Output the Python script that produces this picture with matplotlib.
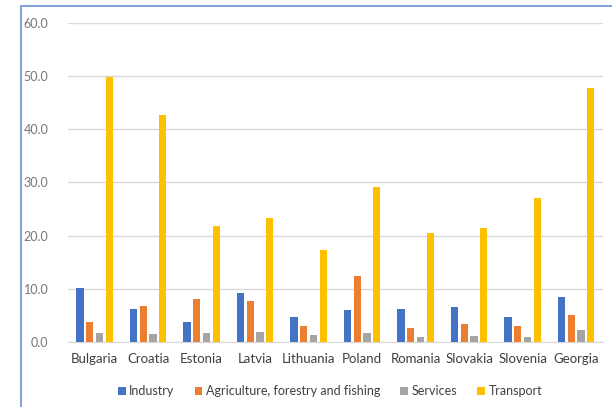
import numpy as np
import matplotlib.pyplot as plt
from matplotlib.patches import Rectangle

plt.rcParams['font.family'] = ['Lato', 'DejaVu Sans']

countries = ['Bulgaria', 'Croatia', 'Estonia', 'Latvia', 'Lithuania',
             'Poland', 'Romania', 'Slovakia', 'Slovenia', 'Georgia']
industry = [10.2, 6.2, 3.8, 9.2, 4.7, 6.0, 6.2, 6.6, 4.7, 8.5]
agriculture = [3.8, 6.7, 8.0, 7.6, 2.9, 12.4, 2.7, 3.4, 2.9, 5.0]
services = [1.7, 1.4, 1.6, 1.8, 1.3, 1.7, 0.9, 1.2, 0.9, 2.2]
transport = [49.8, 42.6, 21.8, 23.4, 17.3, 29.2, 20.5, 21.4, 27.1, 47.8]

series = [
    ('Industry', industry, '#4472C4'),
    ('Agriculture, forestry and fishing', agriculture, '#ED7D31'),
    ('Services', services, '#A5A5A5'),
    ('Transport', transport, '#FFC000'),
]

fig = plt.figure(figsize=(6.12, 4.07), dpi=100)
ax = fig.add_axes([0.111, 0.160, 0.874, 0.7835])

# chart frame (cropped screenshot border)
fig.patches.append(Rectangle((21 / 612, -0.05), 1.2, 1 - 6 / 407 + 0.05,
                             transform=fig.transFigure, fill=False,
                             edgecolor='#6E8FD0', linewidth=1.2))

x = np.arange(len(countries))
pitch = 0.183
width = 0.135
for i, (name, vals, col) in enumerate(series):
    ax.bar(x + (i - 1.5) * pitch, vals, width, color=col, label=name, zorder=3)

ax.set_xlim(-0.5, len(countries) - 0.5)
ax.set_ylim(0, 60)
ax.set_yticks(np.arange(0, 61, 10))
ax.set_yticklabels(['%.1f' % v for v in np.arange(0, 61, 10)])
ax.set_xticks(x)
ax.set_xticklabels(countries)
ax.yaxis.grid(True, color='#D9D9D9', linewidth=1, zorder=0)
for s in ['top', 'right', 'left']:
    ax.spines[s].set_visible(False)
ax.spines['bottom'].set_color('#D9D9D9')
ax.tick_params(axis='y', length=0, labelsize=9, labelcolor='#767676', pad=14)
ax.tick_params(axis='x', length=0, labelsize=9.5, labelcolor='#404040', pad=8)

ax.legend(loc='upper center', bbox_to_anchor=(0.49, -0.10), ncol=4, frameon=False,
          fontsize=9, labelcolor='#404040', handlelength=0.6, handleheight=0.6,
          handletextpad=0.3, columnspacing=1.6)

fig.savefig('out.png', dpi=100)
